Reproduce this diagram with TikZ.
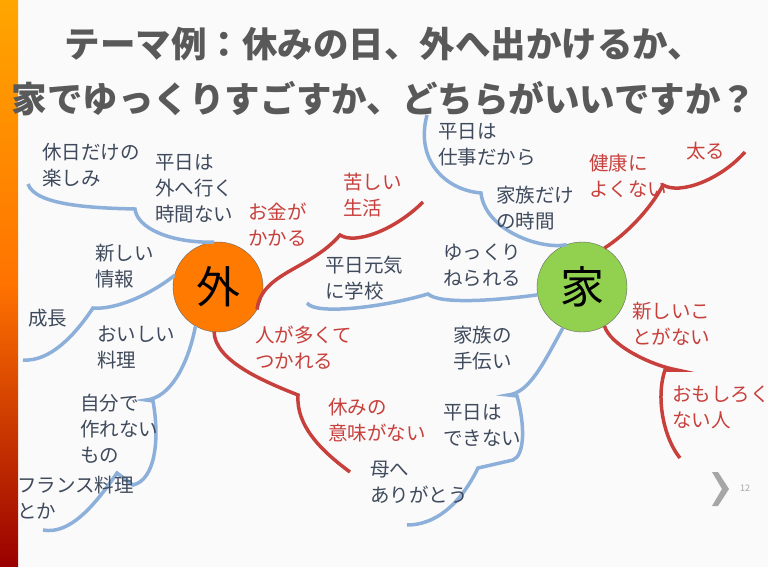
\documentclass[tikz,border=0pt]{standalone}
\usepackage{fontspec}
\setmainfont{Noto Sans CJK JP}
\usetikzlibrary{positioning}
\definecolor{titlegray}{HTML}{595959}
\definecolor{textslate}{HTML}{3F4A5C}
\definecolor{branchblue}{HTML}{8DB0DA}
\definecolor{branchred}{HTML}{C8403C}
\definecolor{sotoorange}{HTML}{FF7A00}
\definecolor{iegreen}{HTML}{92D050}
\tikzset{
  every node/.style={inner sep=0pt,outer sep=0pt},
  label/.style={anchor=north west,align=left,text=textslate,
    font=\fontsize{19.5}{26}\selectfont},
  redlabel/.style={label,text=branchred},
  blueline/.style={draw=branchblue,line width=3.5pt},
  redline/.style={draw=branchred,line width=3.5pt},
  hub/.style={circle,draw=black!60,minimum size=90pt,
    font=\fontsize{44}{44}\selectfont}
}
\begin{document}
\begin{tikzpicture}[x=1pt,y=-1pt]
  \useasboundingbox (0,0) rectangle (768,567);
  \fill[black!2] (0,0) rectangle (768,567);
  \shade[top color=orange!70!yellow,bottom color=red!60!black,middle color=orange!90!red]
    (0,0) rectangle (18,567);

  % title
  \node (Title) [anchor=center,align=center,text=titlegray,
    font=\fontsize{35.5}{55}\selectfont\bfseries] at (384,72)
    {テーマ例：休みの日、外へ出かけるか、\\家でゆっくりすごすか、どちらがいいですか？};

  % hubs
  \node (Soto) [hub,fill=sotoorange] at (218,287) {外};
  \node (Ie)   [hub,fill=iegreen]    at (582,287) {家};

  % branches around Soto
  \draw [blueline] (28,184) .. controls (35,205) and (90,208) .. (135,209)
    .. controls (137,228) and (170,243) .. (Soto.95);
  \draw [blueline] (Soto.165) .. controls (150,295) and (115,310) .. (93,308)
    .. controls (75,335) and (50,362) .. (23,360);
  \draw [blueline] (Soto.-120) .. controls (188,365) and (170,398) .. (146,400)
    -- (153,401) .. controls (160,440) and (155,480) .. (133,485)
    -- (117,473) .. controls (95,505) and (70,535) .. (43,530);
  \draw [redline] (Soto.-30) .. controls (262,272) and (310,270) .. (340,235)
    .. controls (355,245) and (395,230) .. (423,202);
  \draw [redline] (Soto.-95) .. controls (215,360) and (260,380) .. (298,395)
    .. controls (296,425) and (320,450) .. (350,472);

  % branch between hubs
  \draw [blueline] (307,303) .. controls (315,315) and (380,308) .. (428,294)
    .. controls (440,305) and (500,300) .. (Ie.190);

  % branches around Ie
  \draw [blueline] (427,115) .. controls (415,160) and (445,190) .. (481,193)
    .. controls (485,230) and (540,250) .. (Ie.110);
  \draw [redline] (Ie.60) .. controls (625,235) and (650,210) .. (663,185)
    .. controls (680,195) and (720,180) .. (745,152);
  \draw [redline] (Ie.-60) .. controls (610,345) and (650,365) .. (677,370)
    -- (665,370) .. controls (655,400) and (665,440) .. (680,458);
  \draw [blueline] (Ie.-115) .. controls (545,360) and (530,393) .. (508,395)
    -- (517,396) .. controls (525,425) and (525,455) .. (513,460)
    -- (478,468) .. controls (460,505) and (435,525) .. (407,525);

  % labels
  \node (Kyujitsu) [label] at (42,143)  {休日だけの\\楽しみ};
  \node (Heijitsu) [label] at (155,154) {平日は\\外へ行く\\時間ない};
  \node (Joho)     [label] at (95,244)  {新しい\\情報};
  \node (Seicho)   [label] at (28,309)  {成長};
  \node (Ryori)    [label] at (97,326)  {おいしい\\料理};
  \node (Jibun)    [label] at (80,394)  {自分で\\作れない\\もの};
  \node (France)   [label] at (17,476)  {フランス料理\\とか};
  \node (Okane)    [redlabel] at (248,203) {お金が\\かかる};
  \node (Kurushii) [redlabel] at (343,173) {苦しい\\生活};
  \node (Genki)    [label] at (325,256) {平日元気\\に学校};
  \node (Hito)     [redlabel] at (255,326) {人が多くて\\つかれる};
  \node (Yasumi)   [redlabel] at (328,398) {休みの\\意味がない};
  \node (Haha)     [label] at (370,461) {母へ\\ありがとう};
  \node (Shigoto)  [label] at (438,123) {平日は\\仕事だから};
  \node (Kazoku)   [label] at (496,186) {家族だけ\\の時間};
  \node (Yukkuri)  [label] at (443,244) {ゆっくり\\ねられる};
  \node (Kenko)    [redlabel] at (589,154) {健康に\\よくない};
  \node (Futoru)   [redlabel] at (686,142) {太る};
  \node (Atarashi) [redlabel] at (632,302) {新しいこ\\とがない};
  \node (Omoshiro) [redlabel] at (672,386) {おもしろく\\ない人};
  \node (Tetsudai) [label] at (453,326) {家族の\\手伝い};
  \node (Dekinai)  [label] at (443,404) {平日は\\できない};

  % page mark
  \fill [black!35] (712,472) -- (718,472) -- (729,489) -- (718,506) -- (712,506) -- (722,489) -- cycle;
  \node (PageNo)  [anchor=center,text=black!35,font=\fontsize{9}{9}\selectfont] at (745,488) {12};
\end{tikzpicture}
\end{document}
